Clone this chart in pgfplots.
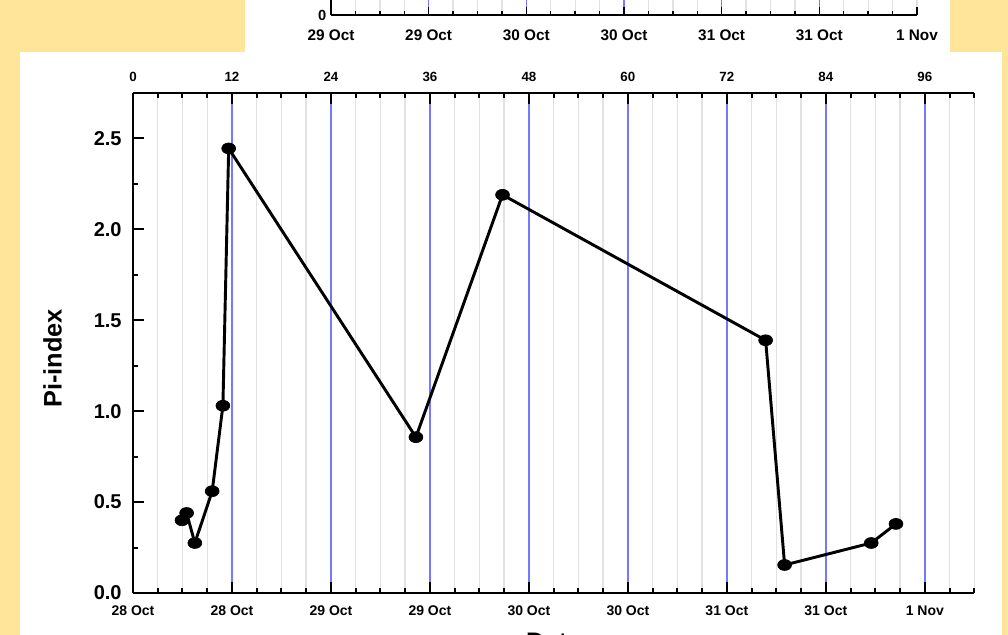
\documentclass[border=0pt]{standalone}
\usepackage{fontspec}
\setmainfont{Liberation Sans}
\usepackage{pgfplots}
\pgfplotsset{compat=1.18}
\definecolor{bgyellow}{RGB}{255,229,153}
\definecolor{gridblue}{RGB}{120,120,255}
\definecolor{gridgray}{RGB}{226,226,226}
\begin{document}
\begin{tikzpicture}[x=0.75pt,y=0.75pt]
\useasboundingbox (0,0) rectangle (1008,635);
\fill[bgyellow] (0,0) rectangle (1008,635);
\fill[white] (245,583) rectangle (950,636);
\fill[white] (20,-1) rectangle (1002,583);

% fragment of the chart above
\begin{axis}[at={(248.25pt,465pt)}, anchor=south west, scale only axis,
  width=439.5pt, height=80pt, xmin=0, xmax=72, ymin=0, ymax=1,
  axis x line*=bottom, axis y line*=left, tick align=inside,
  axis line style={line width=1.5pt},
  every tick/.style={black, line width=1.1pt},
  major tick length=6pt, minor tick length=3pt,
  xtick={0,12,...,72},
  xticklabels={29 Oct,29 Oct,30 Oct,30 Oct,31 Oct,31 Oct,1 Nov},
  minor xtick={0,3,...,72},
  extra x ticks={12,24,...,60}, extra x tick labels={},
  extra x tick style={xmajorgrids=true, major grid style={gridblue, line width=1pt}},
  ytick={0}, yticklabels={0},
  xminorgrids=true,
  minor grid style={gridgray, line width=1pt},
  xticklabel style={font=\bfseries\fontsize{11.5}{11.5}\selectfont, yshift=-7.5pt},
  yticklabel style={font=\bfseries\fontsize{11}{11}\selectfont},
]
\addplot[draw=none] coordinates {(0,0)};
\end{axis}

% main chart
\begin{axis}[at={(99.75pt,31.5pt)}, anchor=south west, scale only axis,
  width=631pt, height=375pt, xmin=0, xmax=102, ymin=0, ymax=2.75,
  axis x line*=bottom, axis y line*=left, tick align=inside,
  axis line style={line width=2pt},
  every tick/.style={black, line width=1.5pt},
  major tick length=8.25pt, minor tick length=4pt,
  xtick={0,12,...,96},
  xticklabels={28 Oct,28 Oct,29 Oct,29 Oct,30 Oct,30 Oct,31 Oct,31 Oct,1 Nov},
  minor xtick={0,3,...,102},
  ytick={0,0.5,...,2.5},
  minor ytick={0.25,0.75,...,2.25},
  xmajorgrids=true, xminorgrids=true,
  major grid style={gridblue, line width=1.1pt},
  minor grid style={gridgray, line width=1.1pt},
  xticklabel style={font=\bfseries\fontsize{10.5}{10.5}\selectfont, yshift=-6pt},
  yticklabel style={font=\bfseries\fontsize{15}{15}\selectfont, xshift=-5pt,
    /pgf/number format/fixed, /pgf/number format/fixed zerofill,
    /pgf/number format/precision=1},
  /pgf/number format/assume math mode=true,
  xlabel={Date},
  xlabel style={font=\bfseries\fontsize{19}{19}\selectfont, at={(axis description cs:0.5,0)}, anchor=north, inner sep=0pt, yshift=-30pt},
  ylabel={Pi-index},
  ylabel style={font=\bfseries\fontsize{19}{19}\selectfont, at={(axis description cs:-0.0957,0.469)}, anchor=center, inner sep=0pt},
]
\addplot[black, line width=2.2pt, mark=*, mark size=4.1pt, mark options={xscale=1.27, fill=black, line width=0.5pt}]
coordinates {
(5.94,0.40) (6.5,0.44) (7.5,0.275) (9.6,0.56) (10.9,1.03) (11.6,2.445)
(34.3,0.857) (44.8,2.19) (76.7,1.39) (79.0,0.154) (89.5,0.275) (92.5,0.38)
};
\end{axis}

% top axis of main chart
\begin{axis}[at={(99.75pt,31.5pt)}, anchor=south west, scale only axis,
  width=631pt, height=375pt, xmin=0, xmax=102, ymin=0, ymax=2.75,
  axis x line*=top, axis y line=none, tick align=inside,
  axis line style={line width=2pt},
  every tick/.style={black, line width=1.5pt},
  major tick length=8.25pt, minor tick length=4pt,
  xtick={0,12,...,96},
  minor xtick={0,3,...,102},
  xticklabel style={font=\bfseries\fontsize{10}{10}\selectfont, yshift=5pt},
  /pgf/number format/assume math mode=true,
]
\addplot[draw=none] coordinates {(0,0)};
\end{axis}
\end{tikzpicture}
\end{document}
